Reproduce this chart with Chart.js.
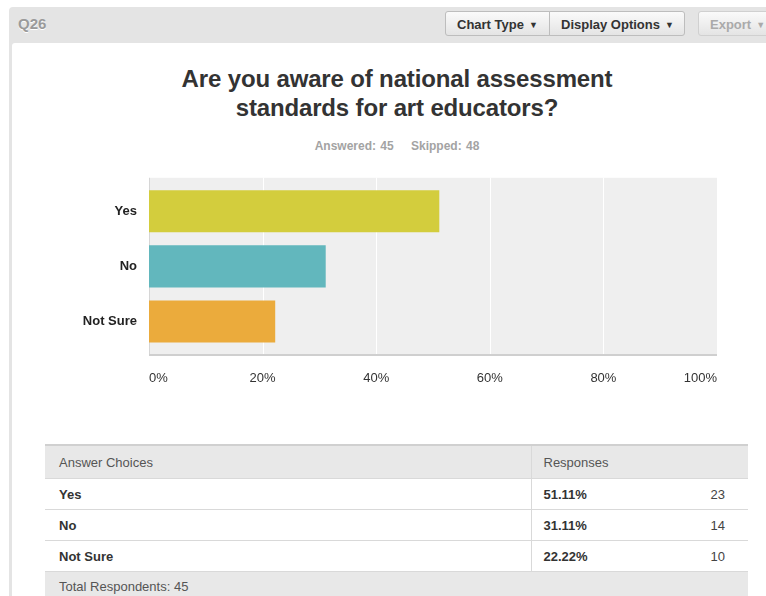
<!DOCTYPE html>
<html>
<head>
<meta charset="utf-8">
<script src="https://cdn.jsdelivr.net/npm/chart.js@4/dist/chart.umd.min.js"></script>
<style>
  html, body { margin: 0; padding: 0; background: #fff; }
  body { width: 766px; height: 596px; position: relative; overflow: hidden;
         font-family: "Liberation Sans", Arial, Helvetica, sans-serif; }
  #panel { position: absolute; left: 9px; top: 7px; width: 780px; height: 620px;
           background: #e4e4e4; border-top-left-radius: 4px; }
  #qnum { position: absolute; left: 18px; top: 15px; font-size: 15px; font-weight: bold;
          color: #9a9a9a; text-shadow: 0 1px 0 #fff; }
  .btn { position: absolute; top: 11px; height: 25px; line-height: 25px; box-sizing: border-box;
         border: 1px solid #bdbdbd; background: linear-gradient(#fafafa, #e4e4e4);
         font-size: 13px; font-weight: bold; color: #333; padding-left: 11px; }
  .btn .caret { font-size: 9px; margin-left: 5px; position: relative; top: -1px; }
  #card { position: absolute; left: 12px; top: 43px; width: 770px; height: 560px;
          background: #fff; border-top-left-radius: 3px; }
  #title { position: absolute; left: 12px; width: 770px; top: 64px; text-align: center;
           font-size: 24px; font-weight: bold; color: #333; line-height: 29px; letter-spacing: -0.15px; }
  #counts { position: absolute; left: 12px; width: 770px; top: 139px; text-align: center;
            font-size: 12px; font-weight: bold; color: #a3a3a3; word-spacing: 1px; }
  #chartBox { position: absolute; left: 12px; top: 164px; width: 754px; height: 236px; }
  table { position: absolute; left: 45px; top: 444px; width: 703px; border-collapse: collapse;
          table-layout: fixed; font-size: 13px; color: #333; }
  th, td { height: 30px; padding: 0 14px; text-align: left; border-bottom: 1px solid #d9d9d9; }
  th { background: #e8e8e8; font-weight: normal; color: #555; height: 32px;
       border-top: 2px solid #d0d0d0; }
  td { font-weight: bold; }
  .split { border-left: 1px solid #d9d9d9; padding-left: 12px; }
  td.num { font-weight: normal; text-align: right; padding-right: 23px; color: #444; }
  tr.foot td { background: #e8e8e8; font-weight: normal; color: #555; height: 28px; border-bottom: none; }
</style>
</head>
<body>
<div id="panel"></div>
<div id="qnum">Q26</div>
<div class="btn" style="left:445px; width:105px; border-radius:3px 0 0 3px;">Chart Type<span class="caret">&#9660;</span></div>
<div class="btn" style="left:549px; width:136px; border-radius:0 3px 3px 0;">Display Options<span class="caret">&#9660;</span></div>
<div class="btn" style="left:698px; width:90px; border-radius:3px; color:#aaa; border-color:#d0d0d0;">Export<span class="caret">&#9660;</span></div>
<div id="card"></div>
<div id="title">Are you aware of national assessment<br>standards for art educators?</div>
<div id="counts"></div>
<div id="chartBox"><canvas id="chart"></canvas></div>
<table id="answers">
  <colgroup><col style="width:486px"><col style="width:140px"><col></colgroup>
</table>

<script>
const categories = ["Yes", "No", "Not Sure"];
const percents = [51.11, 31.11, 22.22];
const responses = [23, 14, 10];
const barColors = ["#d3cd3d", "#62b7bd", "#ebab3c"];
const xTicks = [0, 20, 40, 60, 80, 100];
const answered = 45;
const skipped = 48;

document.getElementById("counts").innerHTML =
    "Answered: " + answered + "&nbsp;&nbsp;&nbsp; Skipped: " + skipped;

// answer table under the chart
let rows = '<tr><th>Answer Choices</th><th class="split" colspan="2">Responses</th></tr>';
categories.forEach((c, i) => {
    rows += "<tr><td>" + c + '</td><td class="split">' + percents[i].toFixed(2) + '%</td><td class="num">' + responses[i] + "</td></tr>";
});
rows += '<tr class="foot"><td colspan="3">Total Respondents: ' + answered + "</td></tr>";
document.getElementById("answers").insertAdjacentHTML("beforeend", rows);

// grey plot background, white gridlines and axis lines, drawn a bit past the bars
const plotBg = {
    id: "plotBg",
    beforeDatasetsDraw(chart) {
        const { ctx, chartArea: a, scales } = chart;
        const top = a.top - 6, bottom = a.bottom + 6;
        ctx.save();
        ctx.fillStyle = "#efefef";
        ctx.fillRect(a.left, top, a.right - a.left, bottom - top);
        ctx.strokeStyle = "#ffffff";
        ctx.lineWidth = 1;
        xTicks.slice(1, -1).forEach(v => {
            const x = Math.round(scales.x.getPixelForValue(v)) + 0.5;
            ctx.beginPath();
            ctx.moveTo(x, top);
            ctx.lineTo(x, bottom);
            ctx.stroke();
        });
        ctx.strokeStyle = "#d6d6d6";
        ctx.beginPath();
        ctx.moveTo(a.left + 0.5, top);
        ctx.lineTo(a.left + 0.5, bottom);
        ctx.stroke();
        ctx.strokeStyle = "#cfcfcf";
        ctx.lineWidth = 2;
        ctx.beginPath();
        ctx.moveTo(a.left, bottom);
        ctx.lineTo(a.right, bottom);
        ctx.stroke();
        ctx.restore();
    }
};

new Chart(document.getElementById("chart"), {
    type: "bar",
    data: {
        labels: categories,
        datasets: [{
            data: percents,
            backgroundColor: barColors,
            barPercentage: 0.764,
            categoryPercentage: 1
        }]
    },
    options: {
        indexAxis: "y",
        responsive: true,
        maintainAspectRatio: false,
        animation: false,
        layout: { padding: { top: 8, right: 49, bottom: 0, left: 0 } },
        plugins: {
            legend: { display: false },
            tooltip: { enabled: false }
        },
        scales: {
            x: {
                min: 0,
                max: 100,
                afterBuildTicks(scale) {
                    scale.ticks = xTicks.map(v => ({ value: v }));
                },
                afterFit(scale) { scale.height = 51; },
                grid: { display: false, drawTicks: false },
                border: { display: false },
                ticks: {
                    align: "inner",
                    padding: 22,
                    color: "#333",
                    font: { family: "Liberation Sans, Arial", size: 13 },
                    callback: v => v + "%"
                }
            },
            y: {
                afterFit(scale) { scale.width = 137; },
                grid: { display: false, drawTicks: false },
                border: { display: false },
                ticks: {
                    padding: 12,
                    color: "#222",
                    font: { family: "Liberation Sans, Arial", size: 13, weight: "bold" }
                }
            }
        }
    },
    plugins: [plotBg]
});
</script>
</body>
</html>
